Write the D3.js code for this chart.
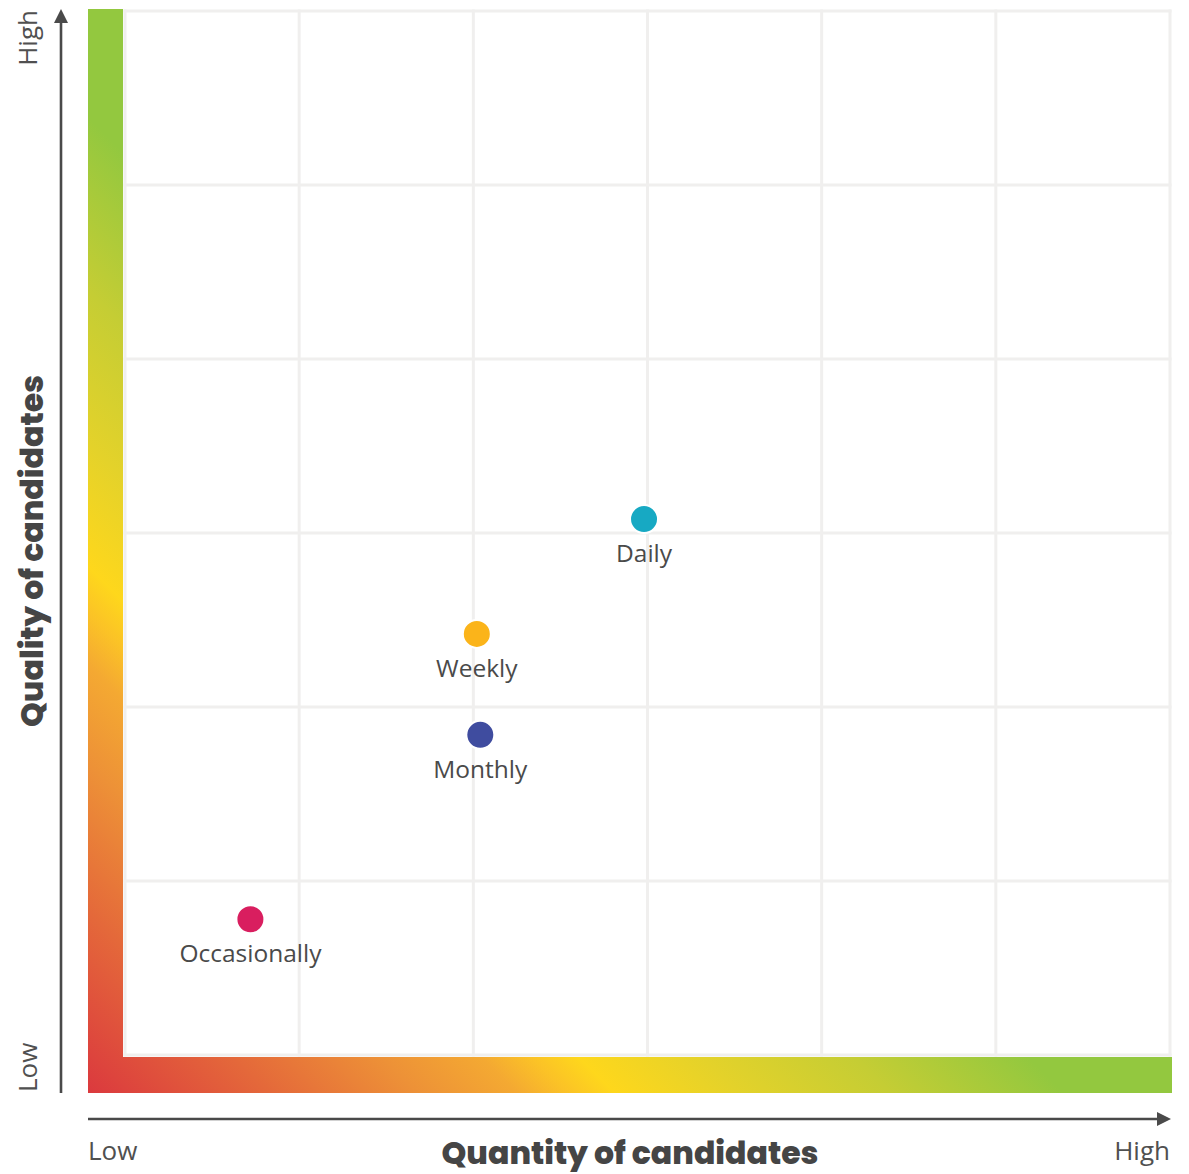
<!DOCTYPE html>
<html>
<head>
<meta charset="utf-8">
<script src="https://cdn.jsdelivr.net/npm/d3@7/dist/d3.min.js"></script>
<style>
  html, body { margin: 0; padding: 0; background: #ffffff; }
  svg { display: block; }
</style>
</head>
<body>
<svg id="chart" width="1189" height="1174"></svg>
<script>
// Frequency of posting vs. quantity / quality of candidates
const categories = ["Daily", "Weekly", "Monthly", "Occasionally"];
const quantityValues = [2.98, 2.02, 2.04, 0.72];   // x, grid units 0–6
const qualityValues  = [3.08, 2.42, 1.84, 0.78];   // y, grid units 0–6
const pointColors = ["#17a9c3", "#fbb41a", "#3f4c9f", "#d91e5f"];
const gridTicks = [0, 1, 2, 3, 4, 5, 6];
const axisEndLabels = ["Low", "High"];
const xTitle = "Quantity of candidates";
const yTitle = "Quality of candidates";

const svg = d3.select("#chart");

const plot = { left: 125, right: 1170, top: 11, bottom: 1055 };
const x = d3.scaleLinear().domain([0, 6]).range([plot.left, plot.right]);
const y = d3.scaleLinear().domain([0, 6]).range([plot.bottom, plot.top]);

// Diagonal red → yellow → green gradient for the L-shaped frame
const defs = svg.append("defs");
const barL = 88, barR = 1172, barT = 9, barB = 1093, barW = 35, barH = 36;
const grad = defs.append("linearGradient")
  .attr("id", "frameGrad")
  .attr("gradientUnits", "userSpaceOnUse")
  .attr("x1", barL).attr("y1", barB)
  .attr("x2", barR).attr("y2", barT);
[
  [0.000, "#db393e"],
  [0.083, "#e4683a"],
  [0.152, "#ed9137"],
  [0.198, "#f4a932"],
  [0.222, "#fbc326"],
  [0.243, "#fed71c"],
  [0.300, "#e4d22a"],
  [0.370, "#c5cd34"],
  [0.450, "#93c83f"],
  [1.000, "#93c83f"]
].forEach(([o, c]) => grad.append("stop").attr("offset", o).attr("stop-color", c));

// Plot background and grid
svg.append("rect")
  .attr("x", x(0)).attr("y", y(6))
  .attr("width", x(6) - x(0)).attr("height", y(0) - y(6))
  .attr("fill", "#ffffff");

const grid = svg.append("g").attr("stroke", "#f0efee").attr("stroke-width", 3);
grid.selectAll("line.v").data(gridTicks).join("line")
  .attr("class", "v")
  .attr("x1", d => x(d)).attr("x2", d => x(d))
  .attr("y1", y(6) - 1.5).attr("y2", y(0) + 1.5);
grid.selectAll("line.h").data(gridTicks).join("line")
  .attr("class", "h")
  .attr("y1", d => y(d)).attr("y2", d => y(d))
  .attr("x1", x(0) - 1.5).attr("x2", x(6) + 1.5);

// L-shaped gradient frame
svg.append("path")
  .attr("d", `M${barL},${barT}H${barL + barW}V${barB - barH}H${barR}V${barB}H${barL}Z`)
  .attr("fill", "url(#frameGrad)");

// Axis arrows
const axisColor = "#4a4a4a";
svg.append("line")
  .attr("x1", 61).attr("x2", 61)
  .attr("y1", barB).attr("y2", 20)
  .attr("stroke", axisColor).attr("stroke-width", 2.6);
svg.append("path")
  .attr("d", "M61,9L68,23L54,23Z")
  .attr("fill", axisColor);
svg.append("line")
  .attr("x1", barL).attr("x2", 1160)
  .attr("y1", 1119).attr("y2", 1119)
  .attr("stroke", axisColor).attr("stroke-width", 2.6);
svg.append("path")
  .attr("d", "M1171,1119L1157,1112L1157,1126Z")
  .attr("fill", axisColor);

// Low / High end labels
const endFont = "'Open Sans', 'Noto Sans', sans-serif";
const endStyle = sel => sel
  .attr("font-family", endFont)
  .attr("font-weight", 400)
  .attr("font-size", 26)
  .attr("fill", "#505050");

svg.append("text").call(endStyle)
  .attr("transform", "translate(37,1092) rotate(-90)")
  .attr("text-anchor", "start")
  .text(axisEndLabels[0]);
svg.append("text").call(endStyle)
  .attr("transform", "translate(37,10) rotate(-90)")
  .attr("text-anchor", "end")
  .text(axisEndLabels[1]);
svg.append("text").call(endStyle)
  .attr("x", barL).attr("y", 1160)
  .attr("text-anchor", "start")
  .text(axisEndLabels[0]);
svg.append("text").call(endStyle)
  .attr("x", 1170).attr("y", 1160)
  .attr("text-anchor", "end")
  .text(axisEndLabels[1]);

// Axis titles
const titleStyle = sel => sel
  .attr("font-family", "Poppins, Inter, 'Noto Sans', sans-serif")
  .attr("font-weight", 800)
  .attr("font-size", 31)
  .attr("fill", "#454545")
  .attr("text-anchor", "middle");

svg.append("text").call(titleStyle)
  .attr("x", 630).attr("y", 1164)
  .attr("textLength", 377).attr("lengthAdjust", "spacingAndGlyphs")
  .text(xTitle);
svg.append("text").call(titleStyle)
  .attr("transform", "translate(43,551) rotate(-90)")
  .attr("textLength", 352).attr("lengthAdjust", "spacingAndGlyphs")
  .text(yTitle);

// Points and labels
const points = categories.map((c, i) => ({
  name: c, qx: quantityValues[i], qy: qualityValues[i], color: pointColors[i]
}));

const pts = svg.append("g").selectAll("g").data(points).join("g")
  .attr("transform", d => `translate(${x(d.qx)},${y(d.qy)})`);

pts.append("circle")
  .attr("r", 14)
  .attr("fill", d => d.color)
  .attr("stroke", "#ffffff")
  .attr("stroke-width", 2);

pts.append("text")
  .attr("y", 43)
  .attr("text-anchor", "middle")
  .attr("font-family", "'Open Sans', 'Noto Sans', sans-serif")
  .attr("font-size", 24.5)
  .attr("fill", "#4a4a4a")
  .text(d => d.name);
</script>
</body>
</html>
